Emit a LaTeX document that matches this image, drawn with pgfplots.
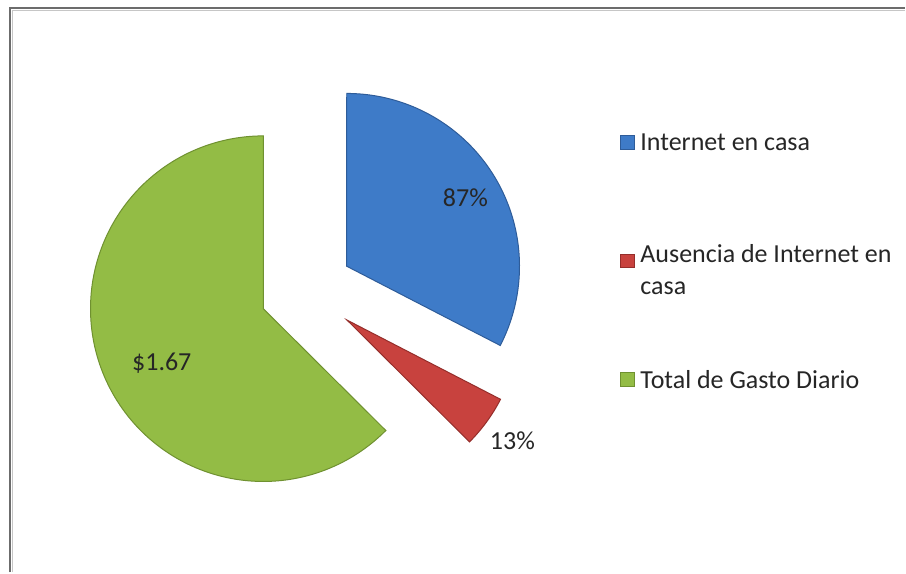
\documentclass[border=0pt]{standalone}
\usepackage{pgfplots}
\pgfplotsset{compat=1.18}
\usepackage{fontspec}
\setmainfont{Carlito}
\definecolor{blueF}{HTML}{3E7BC8}
\definecolor{blueD}{HTML}{2E5C99}
\definecolor{redF}{HTML}{C8423E}
\definecolor{redD}{HTML}{952E2B}
\definecolor{greenF}{HTML}{93BC45}
\definecolor{greenD}{HTML}{6F9130}
% data values
\def\vA{0.87}\def\vB{0.13}\def\vC{1.67}
\begin{document}
\begin{tikzpicture}
\pgfmathsetmacro\tot{\vA+\vB+\vC}
\pgfmathsetmacro\aA{90}
\pgfmathsetmacro\aB{90-360*\vA/\tot}
\pgfmathsetmacro\aC{\aB-360*\vB/\tot}
\pgfmathsetmacro\aD{\aC-360*\vC/\tot}
\pgfmathsetmacro\mA{(\aA+\aB)/2}
\pgfmathsetmacro\mB{(\aB+\aC)/2}
\pgfmathsetmacro\mC{(\aC+\aD)/2}
\def\cx{307}\def\cy{291}\def\R{173}\def\ex{47}
\pgfmathsetmacro\bx{\cx+\ex*cos(\mA)}\pgfmathsetmacro\by{\cy-\ex*sin(\mA)}
\pgfmathsetmacro\rx{\cx+(\ex+3)*cos(\mB)}\pgfmathsetmacro\ry{\cy-(\ex+3)*sin(\mB)}
\pgfmathsetmacro\gx{\cx+\ex*cos(\mC)}\pgfmathsetmacro\gy{\cy-\ex*sin(\mC)}
\begin{axis}[
  scale only axis, width=906pt, height=573pt,
  xmin=0, xmax=906, ymin=0, ymax=573, y dir=reverse,
  hide axis, clip=false,
]
\path[fill=white] (axis cs:0,0) rectangle (axis cs:906,573);
\draw[color=gray!85!black, line width=2.2pt] (axis cs:10,573) -- (axis cs:10,8) -- (axis cs:906,8);
\draw[color=gray!45, line width=1pt] (axis cs:12.5,573) -- (axis cs:12.5,10.5) -- (axis cs:906,10.5);
% wedges
\addplot[fill=blueF, draw=blueD, line width=1pt, domain=\aB:\aA, samples=90]
  ({\bx+\R*cos(x)},{\by-\R*sin(x)}) -- (axis cs:\bx,\by) -- cycle;
\addplot[fill=redF, draw=redD, line width=1pt, domain=\aC:\aB, samples=20]
  ({\rx+\R*cos(x)},{\ry-\R*sin(x)}) -- (axis cs:\rx,\ry) -- cycle;
\addplot[fill=greenF, draw=greenD, line width=1pt, domain=\aD:\aC, samples=150]
  ({\gx+\R*cos(x)},{\gy-\R*sin(x)}) -- (axis cs:\gx,\gy) -- cycle;
% data labels
\node[font=\fontsize{26}{30}\selectfont, text=black!85] at (axis cs:466,198) {87\%};
\node[font=\fontsize{26}{30}\selectfont, text=black!85] at (axis cs:513,441) {13\%};
\node[font=\fontsize{26}{30}\selectfont, text=black!85] at (axis cs:162,364) {\$1.67};
% legend
\addplot[only marks, mark=square*, mark size=7pt, mark options={fill=blueF, draw=blueD}] coordinates {(628,142)};
\addplot[only marks, mark=square*, mark size=7pt, mark options={fill=redF, draw=redD}] coordinates {(628,261)};
\addplot[only marks, mark=square*, mark size=7pt, mark options={fill=greenF, draw=greenD}] coordinates {(628,380)};
\node[anchor=west, font=\fontsize{26}{32}\selectfont, text=black!85, inner sep=0pt] at (axis cs:641,142) {Internet en casa};
\node[anchor=north west, font=\fontsize{26}{32}\selectfont, text=black!85, inner sep=0pt, align=left] at (axis cs:641,245) {Ausencia de Internet en\\casa};
\node[anchor=west, font=\fontsize{26}{32}\selectfont, text=black!85, inner sep=0pt] at (axis cs:641,380) {Total de Gasto Diario};
\end{axis}
\end{tikzpicture}
\end{document}
